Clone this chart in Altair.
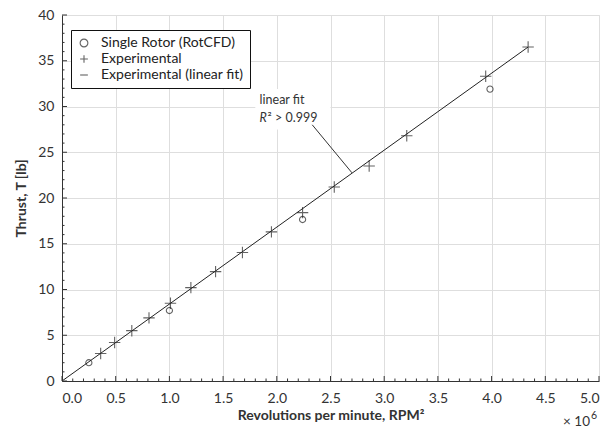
import altair as alt
import pandas as pd

# ---- data ----
exp_x = [0.36, 0.49, 0.65, 0.81, 1.01, 1.20, 1.43, 1.68, 1.95, 2.24, 2.535, 2.86, 3.21, 3.945, 4.34]
exp_y = [3.0, 4.2, 5.5, 6.9, 8.5, 10.2, 11.95, 14.05, 16.3, 18.4, 21.2, 23.5, 26.8, 33.3, 36.5]
cfd_x = [0.25, 1.0, 2.24, 3.985]
cfd_y = [2.0, 7.7, 17.65, 31.9]
fit_x = [0.0, 4.34]
fit_y = [0.0, 36.5]

series = ["Single Rotor (RotCFD)", "Experimental", "Experimental (linear fit)"]
shapes = ["circle", "M-1,0H1M0,-1V1", "M-1,0H1"]

x_ticks = [0.0, 0.5, 1.0, 1.5, 2.0, 2.5, 3.0, 3.5, 4.0, 4.5, 5.0]
y_ticks = [0, 5, 10, 15, 20, 25, 30, 35, 40]
x_minor = [round(i * 0.1, 1) for i in range(51) if i % 5 != 0]
y_minor = [i for i in range(41) if i % 5 != 0]

ann_x = 1.84
ann_y = [30.75, 28.75]
leader_x = [2.33, 2.70]
leader_y = [28.0, 22.75]

FONT = "Lato"
W, H = 537, 366

pts = pd.DataFrame({
    "x": exp_x + cfd_x,
    "y": exp_y + cfd_y,
    "series": ["Experimental"] * len(exp_x) + ["Single Rotor (RotCFD)"] * len(cfd_x),
})
fit = pd.DataFrame({"x": fit_x, "y": fit_y})

xs = alt.Scale(domain=[0, 5], nice=False)
ys = alt.Scale(domain=[0, 40], nice=False)

X = alt.X("x:Q", scale=xs,
          axis=alt.Axis(values=x_ticks, format=".1f", grid=True, gridColor="#dedede",
                        ticks=False, domainColor="#333", labelFont=FONT, labelFontSize=14,
                        labelColor="#333", labelPadding=10,
                        title="Revolutions per minute, RPM²", titleFont=FONT, titleFontSize=14,
                        titleFontWeight="bold", titleColor="#333", titlePadding=3))
Y = alt.Y("y:Q", scale=ys,
          axis=alt.Axis(values=y_ticks, grid=True, gridColor="#dedede", ticks=False,
                        domainColor="#333", labelFont=FONT, labelFontSize=14, labelColor="#333",
                        labelPadding=8,
                        title="Thrust, T [lb]", titleFont=FONT, titleFontSize=14,
                        titleFontWeight="bold", titleColor="#333", titlePadding=9))

points = alt.Chart(pts).mark_point(filled=False, color="#222", strokeWidth=1.1).encode(
    x=X, y=Y,
    shape=alt.Shape("series:N", scale=alt.Scale(domain=series, range=shapes),
                    legend=alt.Legend(title=None, orient="none", legendX=9, legendY=15,
                                      strokeColor="#111", fillColor="white", padding=6,
                                      labelFont=FONT, labelFontSize=14, labelColor="#222",
                                      symbolStrokeColor="#222", symbolStrokeWidth=1.1,
                                      symbolFillColor="transparent", symbolSize=60,
                                      rowPadding=2, labelOffset=10, cornerRadius=0)),
    size=alt.condition(alt.datum.series == "Experimental", alt.value(130), alt.value(38)),
)

line = alt.Chart(fit).mark_line(color="#222", strokeWidth=1).encode(x="x:Q", y="y:Q")

ann_bg = alt.Chart(pd.DataFrame({"x": [1.80], "x2": [2.50], "y": [27.5], "y2": [31.9]})).mark_rect(
    color="white").encode(x="x:Q", x2="x2:Q", y="y:Q", y2="y2:Q")

ann1 = alt.Chart(pd.DataFrame({"x": [ann_x], "y": [ann_y[0]], "t": ["linear fit"]})).mark_text(
    align="left", baseline="middle", font=FONT, fontSize=12.5, color="#333").encode(
    x="x:Q", y="y:Q", text="t:N")
ann2a = alt.Chart(pd.DataFrame({"x": [ann_x], "y": [ann_y[1]], "t": ["R"]})).mark_text(
    align="left", baseline="middle", font=FONT, fontSize=12.5, fontStyle="italic",
    color="#333").encode(x="x:Q", y="y:Q", text="t:N")
ann2b = alt.Chart(pd.DataFrame({"x": [ann_x], "y": [ann_y[1]], "t": ["² > 0.999"]})).mark_text(
    align="left", baseline="middle", font=FONT, fontSize=12.5, color="#333", dx=8).encode(
    x="x:Q", y="y:Q", text="t:N")

leader = alt.Chart(pd.DataFrame({"x": [leader_x[0]], "x2": [leader_x[1]],
                                 "y": [leader_y[0]], "y2": [leader_y[1]]})).mark_rule(
    color="#333", strokeWidth=1).encode(x="x:Q", x2="x2:Q", y="y:Q", y2="y2:Q")

xmaj = alt.Chart(pd.DataFrame({"v": x_ticks})).mark_rule(color="#333").encode(
    x="v:Q", y=alt.value(H - 5), y2=alt.value(H))
xmin = alt.Chart(pd.DataFrame({"v": x_minor})).mark_rule(color="#333").encode(
    x="v:Q", y=alt.value(H - 2.5), y2=alt.value(H))
ymaj = alt.Chart(pd.DataFrame({"v": y_ticks})).mark_rule(color="#333").encode(
    y="v:Q", x=alt.value(0), x2=alt.value(5))
ymin = alt.Chart(pd.DataFrame({"v": y_minor})).mark_rule(color="#333").encode(
    y="v:Q", x=alt.value(0), x2=alt.value(2.5))

mult1 = alt.Chart(pd.DataFrame({"t": ["× 10"]})).mark_text(
    align="right", baseline="middle", font=FONT, fontSize=13.5, color="#333").encode(
    x=alt.value(W - 9), y=alt.value(H + 41), text="t:N")
mult2 = alt.Chart(pd.DataFrame({"t": ["6"]})).mark_text(
    align="left", baseline="middle", font=FONT, fontSize=10.5, color="#333").encode(
    x=alt.value(W - 8), y=alt.value(H + 35), text="t:N")

chart = alt.layer(ann_bg, line, points, leader, ann1, ann2a, ann2b,
                  xmaj, xmin, ymaj, ymin, mult1, mult2).properties(
    width=W, height=H, padding={"left": 62, "top": 15, "right": 10, "bottom": 49},
    autosize=alt.AutoSizeParams(type="none"),
).configure_view(stroke="#dedede")

chart.save("out.html", embed_options={"renderer": "svg", "actions": False})
